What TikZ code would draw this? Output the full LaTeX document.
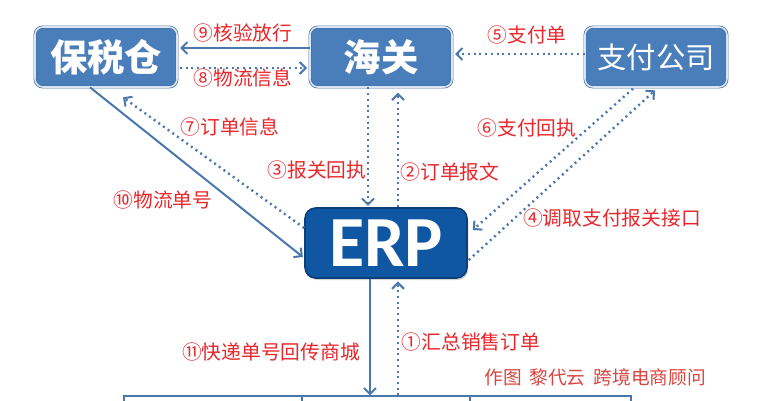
\documentclass[tikz,border=0pt]{standalone}
\usepackage{fontspec}
\newfontfamily\cjk{Noto Sans CJK SC}
\newfontfamily\erpfont{Carlito}
\usetikzlibrary{arrows.meta,shadows}

\definecolor{boxblue}{HTML}{4A7EBB}
\definecolor{boxrim}{HTML}{DCE6F2}
\definecolor{erpblue}{HTML}{0F56A3}
\definecolor{erprim}{HTML}{0B3F7A}
\definecolor{flowblue}{HTML}{4A78AE}
\definecolor{labelred}{HTML}{E8262B}
\definecolor{creditred}{HTML}{D9443F}

\begin{document}
\begin{tikzpicture}[x=0.75pt, y=-0.75pt,
    unit/.style={rectangle, rounded corners=6pt, fill=boxblue, draw=boxblue!85!black,
        double=boxrim, double distance=1.2pt, line width=0.5pt, text=white,
        minimum width=106.5pt, minimum height=45pt, inner sep=0pt},
    core/.style={rectangle, rounded corners=8pt, fill=erpblue, draw=erprim, line width=1.2pt,
        text=white, minimum width=121.5pt, minimum height=52.5pt, inner sep=0pt,
        drop shadow={shadow xshift=1pt, shadow yshift=-1.5pt, opacity=0.35}},
    mall/.style={rectangle, draw=flowblue, line width=0.8pt, fill=white,
        minimum height=30pt, inner sep=0pt},
    tag/.style={text=labelred, font=\cjk\fontsize{14.8}{16}\selectfont, inner sep=0pt},
    flow/.style={draw=flowblue, line width=1.5pt,
        -{Straight Barb[length=4.5pt, width=9pt, line width=1.5pt]}},
    dotflow/.style={flow, line width=1.8pt, dash pattern=on 1.5pt off 2.8pt}]

    \useasboundingbox (0,0) rectangle (771,400);

	% Node definitions.
	\node[unit, font=\cjk\bfseries\fontsize{28}{30}\selectfont]    (bond) at (106,57) {保税仓};
	\node[unit, font=\cjk\bfseries\fontsize{28}{30}\selectfont] (customs) at (381,57) {海关};
	\node[unit, font=\cjk\fontsize{22}{24}\selectfont]          (paycorp) at (656,57) {支付公司};
	\node[core, font=\erpfont\bfseries\fontsize{54}{56}\selectfont] (erp) at (386,243) {ERP};

	\node[mall, minimum width=133.5pt] (mall_a) at (213,416) {};
	\node[mall, minimum width=126pt]   (mall_b) at (386,416) {};
	\node[mall, minimum width=120.75pt] (mall_c) at (550.5,416) {};

	% Arrows.
	\draw[flow]    ([yshift=6.75pt]customs.west) -- ([xshift=2pt, yshift=6.75pt]bond.east);
	\draw[dotflow] ([xshift=2pt, yshift=-8.25pt]bond.east) -- ([xshift=-2pt, yshift=-8.25pt]customs.west);
	\draw[dotflow] ([yshift=2.25pt]paycorp.west) -- ([xshift=2pt, yshift=2.25pt]customs.east);

	\draw[dotflow] ([yshift=11.25pt]erp.west) -- ([xshift=12.75pt, yshift=-7.5pt]bond.south);
	\draw[flow]    ([xshift=-12pt]bond.south) -- ([xshift=-1pt, yshift=-10.5pt]erp.west);

	\draw[dotflow] ([xshift=-13.5pt]erp.north |- customs.south) -- ([xshift=-13.5pt, yshift=1pt]erp.north);
	\draw[dotflow] ([xshift=9pt]erp.north) -- ([xshift=9pt, yshift=-4pt]erp.north |- customs.south);

	\draw[dotflow] ([xshift=-17.25pt, yshift=-1pt]paycorp.south) -- ([xshift=3.75pt, yshift=9.75pt]erp.east);
	\draw[dotflow] ([xshift=0.75pt, yshift=-12.75pt]erp.east) -- ([xshift=-0.75pt, yshift=-2.25pt]paycorp.south);

	\draw[flow]    ([xshift=-12pt]erp.south) -- ([xshift=-12pt]erp.south |- mall_b.north);
	\draw[dotflow] ([xshift=9pt]erp.south |- mall_b.north) -- ([xshift=9pt, yshift=-2pt]erp.south);

	% Labels.
	\node[tag] (lbl_release)  at (243,33)  {⑨核验放行};
	\node[tag] (lbl_logistic) at (243,78)  {⑧物流信息};
	\node[tag] (lbl_payslip)  at (527,35)  {⑤支付单};
	\node[tag] (lbl_orderinf) at (230,127) {⑦订单信息};
	\node[tag] (lbl_waybill)  at (163,200) {⑩物流单号};
	\node[tag] (lbl_declret)  at (317,170) {③报关回执};
	\node[tag] (lbl_ordermsg) at (450,172) {②订单报文};
	\node[tag] (lbl_payret)   at (527,128) {⑥支付回执};
	\node[tag] (lbl_payapi)   at (612,218) {④调取支付报关接口};
	\node[tag] (lbl_express)  at (271,352) {⑪快递单号回传商城};
	\node[tag] (lbl_summary)  at (471,342) {①汇总销售订单};

    % Credit.
    \node[tag, text=creditred, font=\cjk\fontsize{14}{16}\selectfont] (credit) at (595,377) {作图\hspace{6pt}黎代云\hspace{6pt}跨境电商顾问};

\end{tikzpicture}
\end{document}
